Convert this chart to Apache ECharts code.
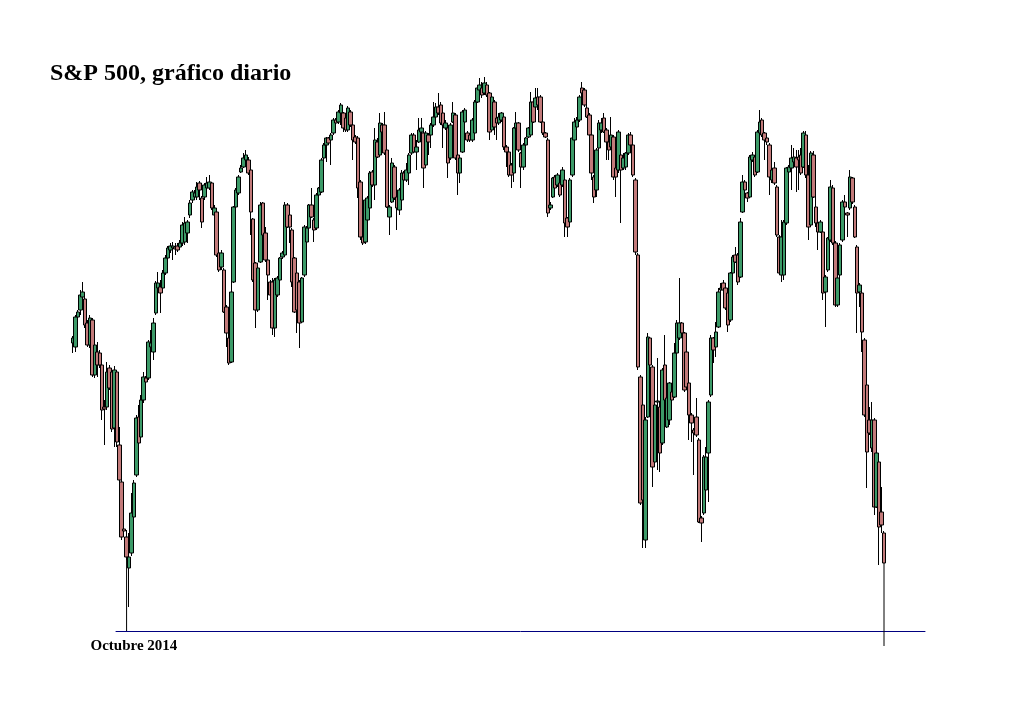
<!DOCTYPE html>
<html><head><meta charset="utf-8">
<script src="https://cdn.jsdelivr.net/npm/echarts@6/dist/echarts.min.js"></script>
<style>html,body{margin:0;padding:0;background:#fff}#c{width:1024px;height:703px}</style>
</head><body><div id="c"></div>
<script>
// Each candle: [open, close, low, high] (unlabelled price scale)
const sepNov2014 = [
[1957,1962,1947,1964],[1953,1983,1948,1985],[1983,1988,1980,1990],[1990,2005,1985,2010],[2003,2008,2000,2018],
[2001,1975,1972,2003],[1977,1955,1953,1980],[1955,1982,1952,1985],[1980,1925,1923,1982],[1925,1955,1922,1960],
[1948,1935,1923,1958],[1947,1935,1932,1950],[1935,1890,1880,1945],[1893,1891,1855,1900],[1893,1928,1890,1938],
[1932,1912,1910,1935],[1928,1871,1868,1930],[1872,1930,1853,1934],[1928,1858,1853,1930],[1855,1820,1818,1873],
[1818,1763,1760,1820],[1771,1769,1763,1807],[1763,1743,1740,1770],[1732,1743,1693,1767],[1747,1787,1744,1807],
[1783,1817,1780,1820],[1825,1882,1823,1885],[1883,1857,1854,1895],[1863,1900,1860,1905],[1900,1923,1897,1928],
[1922,1918,1915,1924],[1922,1958,1920,1960],[1953,1957,1942,1970],[1948,1977,1940,1982],[1987,2017,1985,2019],
[2012,2017,2010,2028],[2013,2007,1987,2020],[2012,2027,2010,2030],[2027,2042,2025,2045],[2042,2052,2038,2054],
[2050,2054,2047,2057],[2052,2054,2040,2058],[2053,2051,2045,2057],[2054,2050,2048,2057],[2053,2057,2050,2060],
[2057,2075,2054,2078],[2058,2077,2055,2083],[2067,2078,2057,2080],[2085,2097,2082,2100],[2100,2108,2097,2110],
[2103,2107,2100,2110],[2103,2113,2100,2118],[2117,2110,2100,2119],[2102,2078,2072,2104]
];
const dec2014Feb2015 = [
[2103,2115,2100,2117],[2112,2117,2110,2123],[2112,2118,2110,2125],[2117,2092,2090,2118],[2085,2092,2080,2095],
[2088,2045,2043,2090],[2047,2030,2028,2048],[2033,2047,2030,2050],[2030,1988,1987,2032],[1993,1967,1953,1995],
[1962,1937,1935,1970],[1938,2008,1937,2018],[2018,2093,2017,2094],[2093,2110,2091,2112],[2107,2123,2105,2125],
[2128,2132,2127,2135],[2133,2142,2132,2147],[2140,2145,2138,2150],[2140,2127,2125,2143],[2130,2088,2065,2132],
[2081,2020,2018,2082],[2037,1990,1972,2038],[1990,2032,1988,2034],[2038,2095,2037,2098],[2097,2065,2063,2098],
[2067,2040,2038,2073],[2040,2025,2000,2043],[2018,2005,2003,2020],[2018,1972,1965,2022],[1972,2020,1963,2022],
[2005,2022,2003,2024],[2020,2042,2007,2043],[2043,2047,2041,2049],[2045,2095,2043,2098],[2095,2073,2072,2097],
[2085,2073,2057,2087],[2070,2018,2013,2072],[2042,1988,1987,2043],[2027,1990,1967,2028],[2018,1977,1952,2020],
[1978,2022,1977,2023],[2025,2073,2023,2075],[2058,2072,2056,2074],[2072,2095,2070,2096],[2095,2083,2082,2112],
[2080,2070,2058,2082],[2072,2105,2070,2107],[2105,2112,2100,2113],[2108,2140,2107,2142],[2142,2155,2140,2157],
[2155,2162,2138,2163],[2162,2157,2155,2163],[2160,2165,2135,2167],[2167,2180,2165,2182],[2180,2177,2175,2182],
[2178,2188,2176,2190]
];
const mar2015May2015 = [
[2187,2195,2175,2197],[2187,2172,2168,2188],[2182,2170,2168,2184],[2170,2192,2168,2194],[2188,2175,2173,2190],
[2175,2160,2140,2177],[2163,2158,2156,2165],[2162,2112,2102,2164],[2118,2063,2060,2120],[2063,2057,2055,2065],
[2058,2100,2056,2102],[2080,2102,2078,2104],[2092,2127,2090,2129],[2128,2115,2113,2130],[2115,2160,2100,2172],
[2158,2143,2142,2162],[2145,2177,2143,2187],[2175,2168,2167,2177],[2175,2147,2145,2188],[2150,2093,2092,2152],
[2083,2093,2065,2095],[2098,2137,2097,2142],[2133,2102,2100,2135],[2103,2092,2070,2105],[2090,2110,2085,2112],
[2100,2127,2098,2130],[2127,2120,2118,2129],[2120,2130,2118,2137],[2127,2145,2115,2147],[2147,2165,2145,2167],
[2165,2148,2147,2167],[2148,2153,2130,2160],[2158,2170,2157,2182],[2168,2172,2167,2182],[2167,2132,2112,2169],
[2135,2167,2133,2169],[2165,2158,2145,2167],[2165,2175,2152,2177],[2175,2183,2173,2198],[2183,2193,2182,2197],
[2193,2187,2185,2207],[2195,2177,2175,2198],[2187,2175,2152,2189],[2172,2177,2170,2180],[2172,2137,2122,2174],
[2142,2175,2140,2177],[2178,2187,2177,2198],[2185,2142,2140,2187],[2145,2127,2105,2147],[2127,2142,2117,2145],
[2148,2188,2147,2190],[2178,2190,2176,2192],[2167,2160,2158,2169],[2165,2160,2158,2167],[2160,2180,2158,2182],
[2167,2198,2165,2200]
];
const may2015Aug2015 = [
[2198,2212,2197,2213],[2210,2215,2207,2222],[2212,2205,2202,2218],[2207,2217,2205,2223],[2215,2205,2203,2218],
[2207,2168,2160,2208],[2170,2203,2168,2205],[2198,2173,2165,2200],[2182,2177,2160,2183],[2177,2183,2175,2187],
[2180,2187,2178,2188],[2183,2153,2150,2185],[2153,2148,2133,2155],[2148,2125,2123,2150],[2135,2125,2112,2137],
[2127,2172,2118,2173],[2172,2177,2170,2188],[2177,2150,2148,2178],[2147,2133,2112,2148],[2133,2155,2130,2157],
[2155,2162,2148,2163],[2163,2172,2162,2173],[2165,2198,2163,2208],[2198,2178,2177,2200],[2193,2202,2192,2212],
[2203,2195,2190,2212],[2203,2178,2177,2205],[2178,2167,2165,2180],[2167,2163,2162,2168],[2160,2087,2083,2162],
[2092,2095,2090,2098],[2103,2122,2102,2123],[2123,2112,2110,2125],[2115,2125,2113,2127],[2117,2105,2103,2118],
[2115,2130,2113,2133],[2120,2077,2063,2122],[2082,2073,2063,2083],[2078,2120,2077,2122],[2125,2162,2123,2163],
[2160,2178,2158,2182],[2173,2180,2172,2183],[2180,2203,2178,2205],[2212,2207,2203,2218],[2210,2195,2193,2212],
[2192,2183,2182,2195],[2185,2165,2158,2187],[2165,2127,2120,2167],[2123,2103,2097,2125],[2110,2150,2103,2152],
[2152,2177,2150,2180],[2170,2177,2167,2182],[2182,2168,2167,2187],[2170,2158,2140,2172],[2158,2150,2140,2160],
[2153,2165,2152,2183],[2163,2123,2120,2165],[2132,2123,2103,2133],[2130,2168,2127,2170],[2145,2130,2077,2165],
[2132,2142,2130,2147],[2133,2147,2130,2148],[2147,2165,2145,2167],[2165,2155,2150,2168],[2155,2125,2123,2157],
[2120,2048,2045,2122]
];
const aug2015Nov2015 = [
[2045,1933,1930,2047],[1923,1797,1795,1925],[1895,1800,1752,1900],[1760,1880,1752,1883],[1883,1963,1882,1967],
[1962,1935,1933,1963],[1933,1833,1813,1935],[1838,1895,1837,1897],[1898,1899,1830,1942],[1893,1847,1828,1898],
[1857,1930,1855,1932],[1935,1900,1877,1965],[1873,1902,1872,1903],[1880,1917,1875,1918],[1908,1900,1898,1910],
[1903,1947,1902,1957],[1947,1977,1945,1980],[1962,1977,1960,2022],[1977,1967,1965,1978],[1967,1910,1908,1968],
[1948,1913,1912,1950],[1917,1885,1860,1918],[1885,1877,1858,1887],[1870,1867,1825,1872],[1883,1865,1863,1902],
[1860,1778,1777,1862],[1782,1777,1758,1784],[1787,1843,1785,1845],[1810,1843,1808,1853],[1847,1898,1798,1900],
[1905,1962,1903,1965],[1962,1950,1937,1963],[1953,1968,1943,1978],[1973,2008,1972,2012],[2010,2012,2000,2017],
[2017,2010,2008,2020],[2012,1992,1990,2013],[2007,1975,1968,2008],[1980,2027,1978,2028],[2027,2043,2025,2045],
[2045,2038,2037,2053],[2045,2018,2015,2047],[2023,2078,2022,2082],[2088,2118,2087,2125],[2118,2110,2108,2120],
[2107,2102,2098,2108],[2103,2143,2102,2145],[2140,2145,2138,2148],[2143,2125,2123,2145],[2128,2168,2127,2170],
[2167,2178,2165,2190],[2180,2165,2163,2182],[2167,2160,2140,2168],[2162,2158,2155,2163]
];
const nov2015Jan2016 = [
[2155,2123,2105,2157],[2120,2130,2117,2133],[2132,2117,2115,2138],[2113,2065,2063,2115],[2063,2027,2025,2065],
[2025,2063,2018,2080],[2025,2078,2020,2080],[2077,2132,2075,2133],[2128,2133,2127,2135],[2132,2142,2110,2155],
[2138,2143,2135,2152],[2142,2133,2108,2150],[2143,2140,2110,2150],[2145,2127,2125,2152],[2133,2167,2132,2169],
[2165,2125,2122,2169],[2125,2073,2060,2135],[2075,2147,2073,2149],[2145,2103,2102,2149],[2093,2077,2073,2115],
[2077,2068,2050,2085],[2068,2078,2067,2080],[2068,2007,2000,2070],[2008,2023,1973,2025],[2030,2062,2028,2063],
[2060,2113,2058,2120],[2112,2057,2055,2115],[2057,1995,1993,2059],[1995,2022,1993,2024],[2025,2055,2020,2057],
[2060,2098,2058,2100],[2098,2093,2090,2105],[2087,2085,2063,2088],[2092,2123,2090,2130],[2122,2098,2096,2123],
[2093,2063,2062,2095],[2053,2007,1967,2055],[2008,2015,1993,2017],[2007,1968,1948,2009],[1960,1885,1883,1962],
[1915,1848,1812,1917],[1880,1867,1865,1893],[1852,1880,1848,1898],[1880,1793,1785,1882],[1793,1847,1792,1849],
[1838,1773,1735,1840],[1788,1775,1767,1813],[1767,1737,1737,1769]
];
const candles = [].concat(sepNov2014, dec2014Feb2015, mar2015May2015, may2015Aug2015, aug2015Nov2015, nov2015Jan2016);
const categories = candles.map((_, i) => 'Día ' + (i + 1));
const tickLabels = { 25: 'Octubre 2014' };
// vertical marker lines: from the candle's low down to a value at/below the axis
const markers = [ { index: 22, bottom: 1669 }, { index: candles.length - 1, bottom: 1654 } ];
const yMin = 1669, yMax = 2229;

const N = candles.length;
const firstX = 73, lastX = 884;
const band = (lastX - firstX) / (N - 1);
const gridLeft = firstX - band / 2;
const gridRight = 1024 - (lastX + band / 2);

const chart = echarts.init(document.getElementById('c'));
chart.setOption({
  animation: false,
  backgroundColor: '#fff',
  title: {
    text: 'S&P 500, gráfico diario', left: 50, top: 62, padding: 0,
    textStyle: { fontFamily: 'Liberation Serif', fontWeight: 'bold', fontSize: 24, color: '#000' }
  },
  grid: [
    { left: gridLeft, right: gridRight, top: 71, bottom: 72 },
    { left: 116, right: 99, top: 71, bottom: 72 }
  ],
  xAxis: [
    { type: 'category', gridIndex: 0, data: categories, boundaryGap: true,
      axisLine: { show: false }, axisTick: { show: false }, splitLine: { show: false },
      axisLabel: { interval: (i) => tickLabels[i] !== undefined, formatter: (v, i) => tickLabels[i] || '',
        fontFamily: 'Liberation Serif', fontWeight: 'bold', fontSize: 15, color: '#000', margin: 8 } },
    { type: 'category', gridIndex: 1, data: [''],
      axisLine: { show: true, lineStyle: { color: '#000080', width: 1 } },
      axisTick: { show: false }, axisLabel: { show: false }, splitLine: { show: false } }
  ],
  yAxis: [
    { type: 'value', gridIndex: 0, min: yMin, max: yMax, show: false },
    { type: 'value', gridIndex: 1, min: 0, max: 1, show: false }
  ],
  series: [
    { type: 'candlestick', xAxisIndex: 0, yAxisIndex: 0, data: candles, barWidth: 4, z: 3,
      itemStyle: { color: '#3c9a68', color0: '#c27a7a', borderColor: '#000', borderColor0: '#000', borderWidth: 1 } }
  ].concat(markers.map(m => ({
    type: 'line', xAxisIndex: 0, yAxisIndex: 0, clip: false, symbol: 'none', silent: true, z: 2,
    data: [[m.index, candles[m.index][2]], [m.index, m.bottom]],
    lineStyle: { color: '#000', width: 1 }
  })))
});
</script></body></html>
